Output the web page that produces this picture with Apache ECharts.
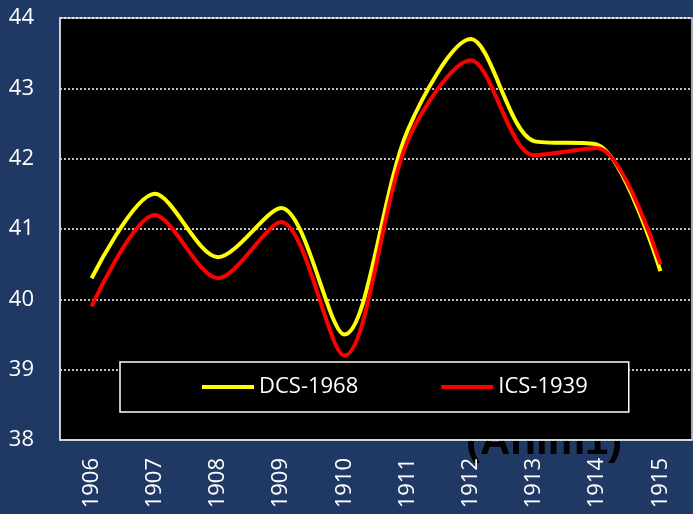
<!DOCTYPE html>
<html>
<head>
<meta charset="utf-8">
<script src="https://cdn.jsdelivr.net/npm/echarts@6/dist/echarts.min.js"></script>
<style>
  html, body { margin: 0; padding: 0; background: #1f3864; }
  #main { width: 693px; height: 514px; }
</style>
</head>
<body>
<div id="main"></div>
<script>
// 数据
var years = ['1906', '1907', '1908', '1909', '1910', '1911', '1912', '1913', '1914', '1915'];
var dcs1968 = [40.3, 41.5, 40.6, 41.3, 39.5, 42.4, 43.7, 42.25, 42.2, 40.4];
var ics1939 = [39.9, 41.2, 40.3, 41.1, 39.2, 42.25, 43.4, 42.05, 42.15, 40.5];
var yTicks = { min: 38, max: 44, interval: 1 };

var font = '"Open Sans", "Noto Sans", sans-serif';
var chart = echarts.init(document.getElementById('main'));
var option = {
  backgroundColor: '#1f3864',
  animation: false,
  grid: {
    left: 60, top: 18, right: 1, bottom: 74,
    show: true,
    backgroundColor: '#000',
    borderColor: '#d9d9d9',
    borderWidth: 1.5
  },
  graphic: [{
    type: 'text',
    z: -10,
    style: {
      x: 466, y: 463,
      text: '(Anim1)',
      fill: '#000',
      font: 'bold 42px "Liberation Sans", Arial, sans-serif',
      textAlign: 'left',
      textVerticalAlign: 'bottom'
    }
  }],
  legend: {
    data: ['DCS-1968', 'ICS-1939'],
    left: 120, top: 362,
    padding: [14, 41, 14, 82],
    itemGap: 83,
    itemWidth: 52, itemHeight: 4,
    icon: 'rect',
    backgroundColor: '#000',
    borderColor: '#fff',
    borderWidth: 1.5,
    textStyle: { color: '#fff', fontSize: 22, fontFamily: font }
  },
  xAxis: {
    type: 'category',
    data: years,
    boundaryGap: true,
    axisLine: { lineStyle: { color: '#d9d9d9', width: 1.5 } },
    axisTick: { show: false },
    axisLabel: { rotate: 90, margin: 18, color: '#fff', fontSize: 22, fontFamily: font }
  },
  yAxis: {
    type: 'value',
    min: yTicks.min, max: yTicks.max, interval: yTicks.interval,
    axisLine: { show: true, lineStyle: { color: '#d9d9d9', width: 1.5 } },
    axisTick: { show: false },
    axisLabel: { margin: 26, color: '#fff', fontSize: 22, fontFamily: font },
    splitLine: { lineStyle: { color: '#fff', type: [2, 2], width: 1.5 } }
  },
  series: [
    {
      name: 'DCS-1968',
      type: 'line',
      data: dcs1968,
      smooth: 0.3,
      showSymbol: false,
      lineStyle: { color: '#ffff00', width: 4 },
      itemStyle: { color: '#ffff00' }
    },
    {
      name: 'ICS-1939',
      type: 'line',
      data: ics1939,
      smooth: 0.3,
      showSymbol: false,
      lineStyle: { color: '#ff0000', width: 4 },
      itemStyle: { color: '#ff0000' }
    }
  ]
};
option && chart.setOption(option);
</script>
</body>
</html>
